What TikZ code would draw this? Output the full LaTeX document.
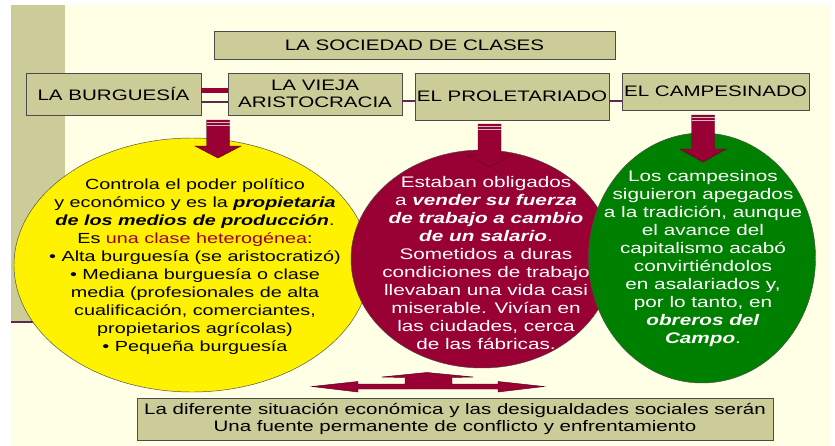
\documentclass[tikz,border=0pt]{standalone}
\usepackage{fontspec}
\setmainfont{Liberation Sans}[FakeStretch=1.35]
\usetikzlibrary{shapes.geometric}

\definecolor{paper}{HTML}{FFFFE5}
\definecolor{khaki}{HTML}{CCCC99}
\definecolor{wine}{HTML}{990033}
\definecolor{leaf}{HTML}{008000}
\definecolor{plum}{HTML}{5C2A50}

\newcommand{\bi}[1]{\textbf{\textit{#1}}}
% down block arrow: x, top, head start, tip
\newcommand{\downblock}[4]{%
  \filldraw[wine, draw=wine!60!black, line width=0.4pt] (#1-11.5,#2) -- (#1+11.5,#2) -- (#1+11.5,#3)
    -- (#1+23,#3) -- (#1,#4) -- (#1-23,#3) -- (#1-11.5,#3) -- cycle;
  \draw[stripe] (#1-11.5,#2+2.5) -- (#1+11.5,#2+2.5);
  \draw[stripe] (#1-11.5,#2+5) -- (#1+11.5,#2+5);}

\begin{document}
\begin{tikzpicture}[x=0.03cm, y=-0.03cm,
    box/.style={draw=gray!60!black, fill=khaki, line width=0.6pt, align=center, inner sep=0pt,
      font=\fontsize{13}{14.5}\selectfont},
    blob/.style={ellipse, draw=black!70, line width=0.4pt, inner sep=0pt},
    blobtext/.style={align=center, font=\fontsize{13.1}{15.3}\selectfont},
    stripe/.style={gray!45, line width=0.5pt},
    link/.style={plum, line width=1.1pt}]
    \def\pxu{0.03cm}
    \useasboundingbox (0,0) rectangle (835,446);
    \fill[white] (0,0) rectangle (835,446);
    \fill[paper] (11,5) rectangle (830,446);
    \fill[khaki] (11,5) rectangle (65,322);
    \draw[link] (11,322) -- (120,322);

    \node[box, minimum width=401*\pxu, minimum height=28*\pxu] (title) at (414.5,45) {LA SOCIEDAD DE CLASES};
    \node[box, minimum width=175*\pxu, minimum height=42*\pxu] (burg) at (113.5,94) {LA BURGUESÍA};
    \node[box, minimum width=174*\pxu, minimum height=42*\pxu] (vieja) at (315,94) {LA VIEJA\\ARISTOCRACIA};
    \node[box, minimum width=194*\pxu, minimum height=47*\pxu] (prol) at (512,96.5) {EL PROLETARIADO};
    \node[box, minimum width=187*\pxu, minimum height=37*\pxu] (camp) at (715.5,91.5) {EL CAMPESINADO};

    \draw[wine, line width=4.3pt] (burg.east |- 0,90.5) -- (vieja.west |- 0,90.5);
    \draw[link] (burg.east |- 0,102) -- (vieja.west |- 0,102);
    \draw[link] (vieja.east |- 0,101) -- (prol.west |- 0,101);
    \draw[link] (prol.east |- 0,101) -- (camp.west |- 0,101);

    \node[blob, fill=yellow, minimum width=356*\pxu, minimum height=254*\pxu] (burgblob) at (192,265) {};
    \node[blobtext, font=\fontsize{12.5}{15.3}\selectfont] (burgtext) at (195,266.5) {Controla el poder político\\
      y económico y es la \bi{propietaria}\\
      \bi{de los medios de producción}.\\
      Es {\color{wine}una clase heterogénea}:\\
      • Alta burguesía (se aristocratizó)\\
      • Mediana burguesía o clase\\
      media (profesionales de alta\\
      cualificación, comerciantes,\\
      propietarios agrícolas)\\
      • Pequeña burguesía};

    \node[blob, fill=wine, minimum width=262*\pxu, minimum height=218*\pxu] (prolblob) at (482,259) {};
    \node[blobtext, text=white] (proltext) at (486,263) {Estaban obligados\\
      a \bi{vender su fuerza}\\
      \bi{de trabajo a cambio}\\
      \bi{de un salario}.\\
      Sometidos a duras\\
      condiciones de trabajo\\
      llevaban una vida casi\\
      miserable. Vivían en\\
      las ciudades, cerca\\
      de las fábricas.};

    \node[blob, fill=leaf, minimum width=227*\pxu, minimum height=250*\pxu] (campblob) at (702,258) {};
    \node[blobtext, text=white] (camptext) at (703,258.5) {Los campesinos\\
      siguieron apegados\\
      a la tradición, aunque\\
      el avance del\\
      capitalismo acabó\\
      convirtiéndolos\\
      en asalariados y,\\
      por lo tanto, en\\
      \bi{obreros del}\\
      \bi{Campo}.};

    \downblock{218}{120}{146}{158}
    \downblock{489.5}{124}{155}{167}
    \downblock{703}{115}{149}{162}

    \filldraw[wine, draw=wine!60!black, line width=0.4pt] (312,386.5) -- (358,381.5) -- (358,384)
      -- (405,384) -- (405,377.5) -- (382,377) -- (427,372.5) -- (473,377) -- (452,377.5)
      -- (452,384) -- (498,384) -- (498,381.5) -- (544,386.5) -- (498,392) -- (498,389)
      -- (358,389) -- (358,392) -- cycle;

    \node[box, minimum width=636*\pxu, minimum height=42*\pxu, font=\fontsize{12.95}{14.2}\selectfont] (concl) at (455,419)
      {La diferente situación económica y las desigualdades sociales serán\\
      Una fuente permanente de conflicto y enfrentamiento};
\end{tikzpicture}
\end{document}
